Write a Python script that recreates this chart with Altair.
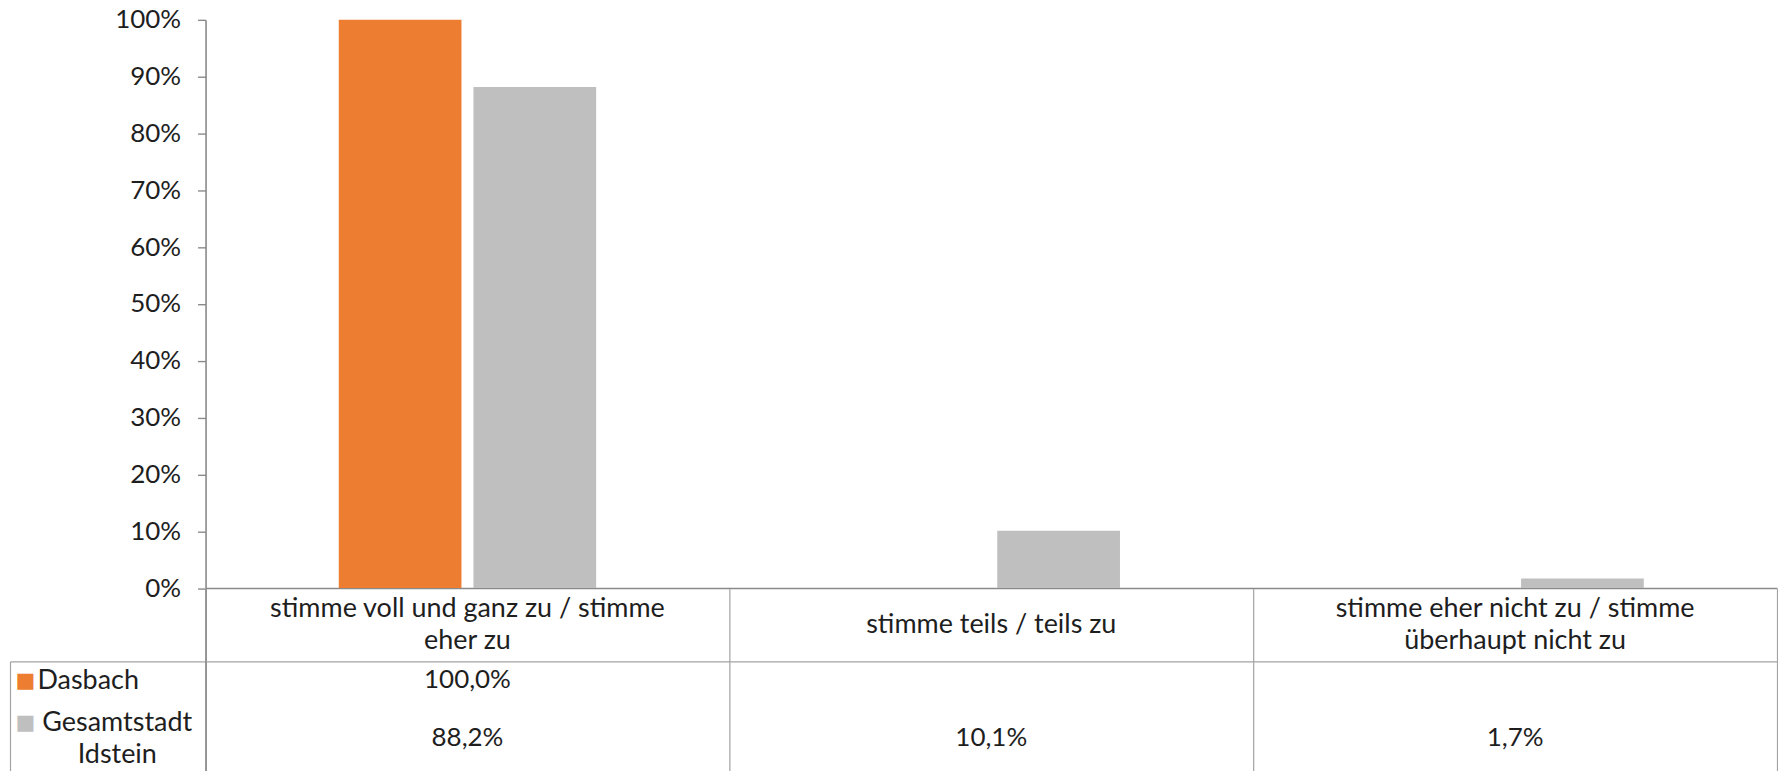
import altair as alt
import pandas as pd

# ---------------- data ----------------
categories = [
    "stimme voll und ganz zu / stimme eher zu",
    "stimme teils / teils zu",
    "stimme eher nicht zu / stimme überhaupt nicht zu",
]
header_labels = [
    "stimme voll und ganz zu / stimme\neher zu",
    "stimme teils / teils zu",
    "stimme eher nicht zu / stimme\nüberhaupt nicht zu",
]
series = ["Dasbach", "Gesamtstadt Idstein"]
dasbach = [1.0, None, None]
gesamtstadt = [0.882, 0.101, 0.017]
y_ticks = [0.0, 0.1, 0.2, 0.3, 0.4, 0.5, 0.6, 0.7, 0.8, 0.9, 1.0]
colors = ["#ED7D31", "#BFBFBF"]

rows = []
for i, c in enumerate(categories):
    for s, vals in zip(series, [dasbach, gesamtstadt]):
        if vals[i] is not None:
            rows.append({"category": c, "series": s, "value": vals[i]})
df = pd.DataFrame(rows)
hdr = pd.DataFrame({"category": categories, "label": header_labels})
ser = pd.DataFrame({"series": series})

# ---------------- style ----------------
FONT = "Lato"
TEXT = "#1e1e1e"
AXIS = "#8a8a8a"
LINE = "#a3a3a3"
FS_AX = 26
FS_TXT = 27
FS_NUM = 26
W = 1575

def xscale():
    return alt.Scale(domain=categories, paddingInner=0, paddingOuter=0)

# ---------------- bars ----------------
bars = alt.Chart(df).mark_bar().encode(
    x=alt.X("category:N", scale=xscale(), sort=categories,
            axis=alt.Axis(title=None, labels=False, ticks=False, domain=True,
                          domainColor=AXIS, domainWidth=1.6, grid=False)),
    xOffset=alt.XOffset("series:N", sort=series,
                        scale=alt.Scale(domain=series, paddingInner=0.089, paddingOuter=0.989)),
    y=alt.Y("value:Q", scale=alt.Scale(domain=[0, 1], nice=False),
            axis=alt.Axis(title=None, format=".0%", values=y_ticks, tickSize=8,
                          labelPadding=17, labelFontSize=FS_AX, labelFont=FONT,
                          labelColor=TEXT, domainColor=AXIS, tickColor=AXIS,
                          domainWidth=1.6, tickWidth=1.4, grid=False)),
    color=alt.Color("series:N", scale=alt.Scale(domain=series, range=colors), legend=None),
).properties(width=W, height=569.5)

# ---------------- header row ----------------
hscale = alt.Scale(domain=[0, 1])
header_text = alt.Chart(hdr).transform_calculate(
    shift="-16 * (length(split(datum.label, '\\n')) - 1)"
).mark_text(
    lineBreak="\n", fontSize=FS_TXT, font=FONT, color=TEXT, lineHeight=32
).encode(
    x=alt.X("category:N", scale=xscale(), sort=categories,
            axis=alt.Axis(title=None, labels=False, ticks=False, domain=False,
                          grid=True, tickBand="extent", gridColor=LINE, gridWidth=1.2)),
    y=alt.YDatum(0.5, type="quantitative", scale=hscale),
    yOffset=alt.YOffset("shift:Q", scale=None),
    text="label:N",
)
header_line = alt.Chart(hdr).mark_point(opacity=0, size=0).encode(
    y=alt.YDatum(0, type="quantitative", scale=hscale,
                 axis=alt.Axis(values=[0], labels=False, tickSize=196, tickColor=LINE,
                               tickWidth=1.2, domainColor=AXIS, domainWidth=1.6,
                               title=None, grid=False)),
)
header = alt.layer(header_text, header_line).properties(width=W, height=73)

# ---------------- value rows ----------------
def yrows():
    return alt.Scale(type="point", domain=series, padding=0.5345, align=0.306)

is_d = "datum.value == 'Dasbach'"

vals = alt.Chart(df).transform_calculate(
    lbl="replace(format(datum.value, '.1%'), '.', ',')"
).mark_text(fontSize=FS_NUM, font=FONT, color=TEXT).encode(
    x=alt.X("category:N", scale=xscale(), sort=categories,
            axis=alt.Axis(orient="top", title=None, labels=False, ticks=False,
                          domain=True, domainColor=LINE, domainWidth=1.2,
                          grid=True, tickBand="extent", gridColor=LINE, gridWidth=1.2)),
    y=alt.Y("series:N", scale=yrows(), sort=series,
            axis=alt.Axis(
                title=None, orient="left", ticks=False, tickSize=0, domain=True,
                domainColor=AXIS, domainWidth=1.6, grid=False,
                labelExpr="datum.value == 'Gesamtstadt Idstein' ? ['Gesamtstadt', 'Idstein'] : datum.value",
                labelAlign={"condition": {"test": is_d, "value": "left"}, "value": "center"},
                labelPadding={"condition": {"test": is_d, "value": 169}, "value": 89},
                labelOffset={"condition": {"test": is_d, "value": 0}, "value": -16},
                labelFontSize=FS_TXT, labelFont=FONT, labelColor=TEXT,
                labelLineHeight=32, labelBaseline="middle")),
    text="lbl:N",
)

squares = alt.Chart(ser).mark_point(opacity=0, size=0).encode(
    y=alt.Y("series:N", scale=yrows(), sort=series,
            axis=alt.Axis(
                title=None, orient="left", offset=191, ticks=False, tickSize=0,
                domain=False, grid=False,
                labelExpr="'\u25a0'",
                labelAlign="left", labelPadding=0, labelFont="DejaVu Sans",
                labelFontSize=21, labelBaseline="middle",
                labelOffset={"condition": {"test": is_d, "value": 0}, "value": -16},
                labelColor={"condition": {"test": is_d, "value": colors[0]},
                            "value": colors[1]})),
)

box = alt.Chart(ser).mark_point(opacity=0, size=0).encode(
    y=alt.Y("series:N", scale=yrows(), sort=series,
            axis=alt.Axis(title=None, orient="left", offset=196, ticks=False, tickSize=0,
                          labels=False, domain=True, domainColor=LINE, domainWidth=1.2,
                          grid=False)),
)

table = alt.layer(vals, squares, box).resolve_axis(y="independent").properties(
    width=W, height=120)

chart = alt.vconcat(bars, header, table, spacing=0, bounds="flush").resolve_scale(
    x="independent", y="independent", color="independent"
).configure_view(stroke="transparent").properties(
    padding={"left": 0, "top": -3, "right": 0, "bottom": 0}
)

chart.save("out.html", embed_options={"renderer": "svg", "actions": False})
